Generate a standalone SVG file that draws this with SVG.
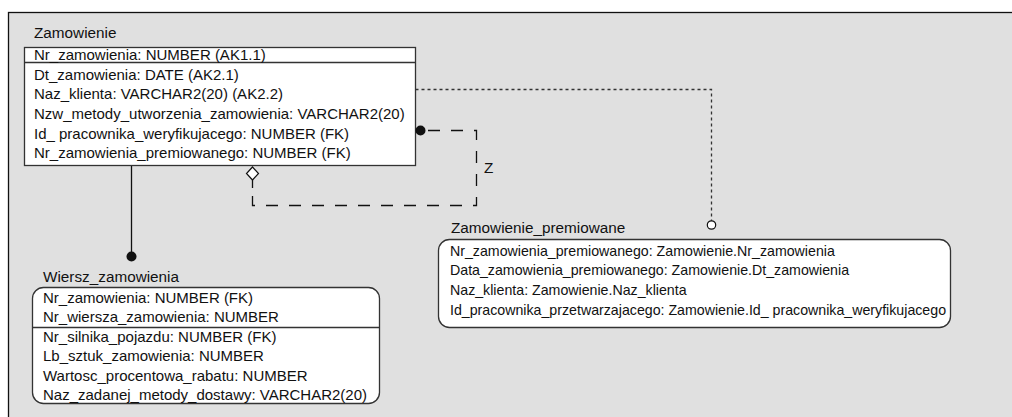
<svg xmlns="http://www.w3.org/2000/svg" width="1012" height="417" viewBox="0 0 1012 417">
<style>
text{font-family:"Liberation Sans",Arial,sans-serif;font-size:15px;fill:#111}
.title{font-size:15.3px}
.small{font-size:14.2px}
.box{fill:#fff;stroke:#333;stroke-width:1.3}
.sep{stroke:#333;stroke-width:1.3}
.solid{fill:none;stroke:#111;stroke-width:1.3}
.dash{fill:none;stroke:#111;stroke-width:1.3;stroke-dasharray:12 11}
.dot{fill:none;stroke:#333;stroke-width:1.3;stroke-dasharray:3 3}
</style>
<rect x="8.5" y="12.5" width="1012" height="412" fill="#e0e0e0" stroke="#111" stroke-width="1.3"/>
<g id="zamowienie">
<text class="title" x="34" y="38">Zamowienie</text>
<rect class="box" x="24.5" y="47.5" width="391" height="118"/>
<line class="sep" x1="24.5" y1="62.5" x2="415.5" y2="62.5"/>
<text x="34" y="60">Nr_zamowienia: NUMBER (AK1.1)</text>
<text x="34" y="79.5">Dt_zamowienia: DATE (AK2.1)</text>
<text x="34" y="99.2">Naz_klienta: VARCHAR2(20) (AK2.2)</text>
<text x="34" y="118.9">Nzw_metody_utworzenia_zamowienia: VARCHAR2(20)</text>
<text x="34" y="138.6">Id_ pracownika_weryfikujacego: NUMBER (FK)</text>
<text x="34" y="158.3">Nr_zamowienia_premiowanego: NUMBER (FK)</text>
</g>
<g id="wiersz_zamowienia">
<text class="title" x="43" y="282">Wiersz_zamowienia</text>
<rect class="box" x="32.5" y="287.5" width="347" height="116" rx="11"/>
<line class="sep" x1="32.5" y1="327.5" x2="379.5" y2="327.5"/>
<text x="43" y="303">Nr_zamowienia: NUMBER (FK)</text>
<text x="43" y="322.4">Nr_wiersza_zamowienia: NUMBER</text>
<text x="43" y="341.8">Nr_silnika_pojazdu: NUMBER (FK)</text>
<text x="43" y="361.2">Lb_sztuk_zamowienia: NUMBER</text>
<text x="43" y="380.6">Wartosc_procentowa_rabatu: NUMBER</text>
<text x="43" y="400">Naz_zadanej_metody_dostawy: VARCHAR2(20)</text>
</g>
<g id="zamowienie_premiowane">
<text class="title" x="451" y="233">Zamowienie_premiowane</text>
<rect class="box" x="438.5" y="239.5" width="512" height="88" rx="11"/>
<text class="small" x="450" y="255.5">Nr_zamowienia_premiowanego: Zamowienie.Nr_zamowienia</text>
<text class="small" x="450" y="275.2">Data_zamowienia_premiowanego: Zamowienie.Dt_zamowienia</text>
<text class="small" x="450" y="294.9">Naz_klienta: Zamowienie.Naz_klienta</text>
<text class="small" x="450" y="314.6">Id_pracownika_przetwarzajacego: Zamowienie.Id_ pracownika_weryfikujacego</text>
</g>
<g id="connectors">
<line class="solid" x1="131.5" y1="166" x2="131.5" y2="256"/>
<circle cx="131.5" cy="256.5" r="5" fill="#111"/>
<polygon points="252.5,167 258.5,173.5 252.5,180 246.5,173.5" fill="#fff" stroke="#111" stroke-width="1.2"/>
<line class="solid" x1="252.5" y1="180" x2="252.5" y2="188"/>
<path class="dash" d="M252.5,196 V205.5 H476.5 V130.5 H420"/>
<circle cx="420.5" cy="130.5" r="5" fill="#111"/>
<text class="title" x="484" y="173">Z</text>
<path class="dot" d="M415.5,89.5 H711.5 V221"/>
<circle cx="711.5" cy="225" r="4.2" fill="#fff" stroke="#111" stroke-width="1.2"/>
</g>
</svg>
